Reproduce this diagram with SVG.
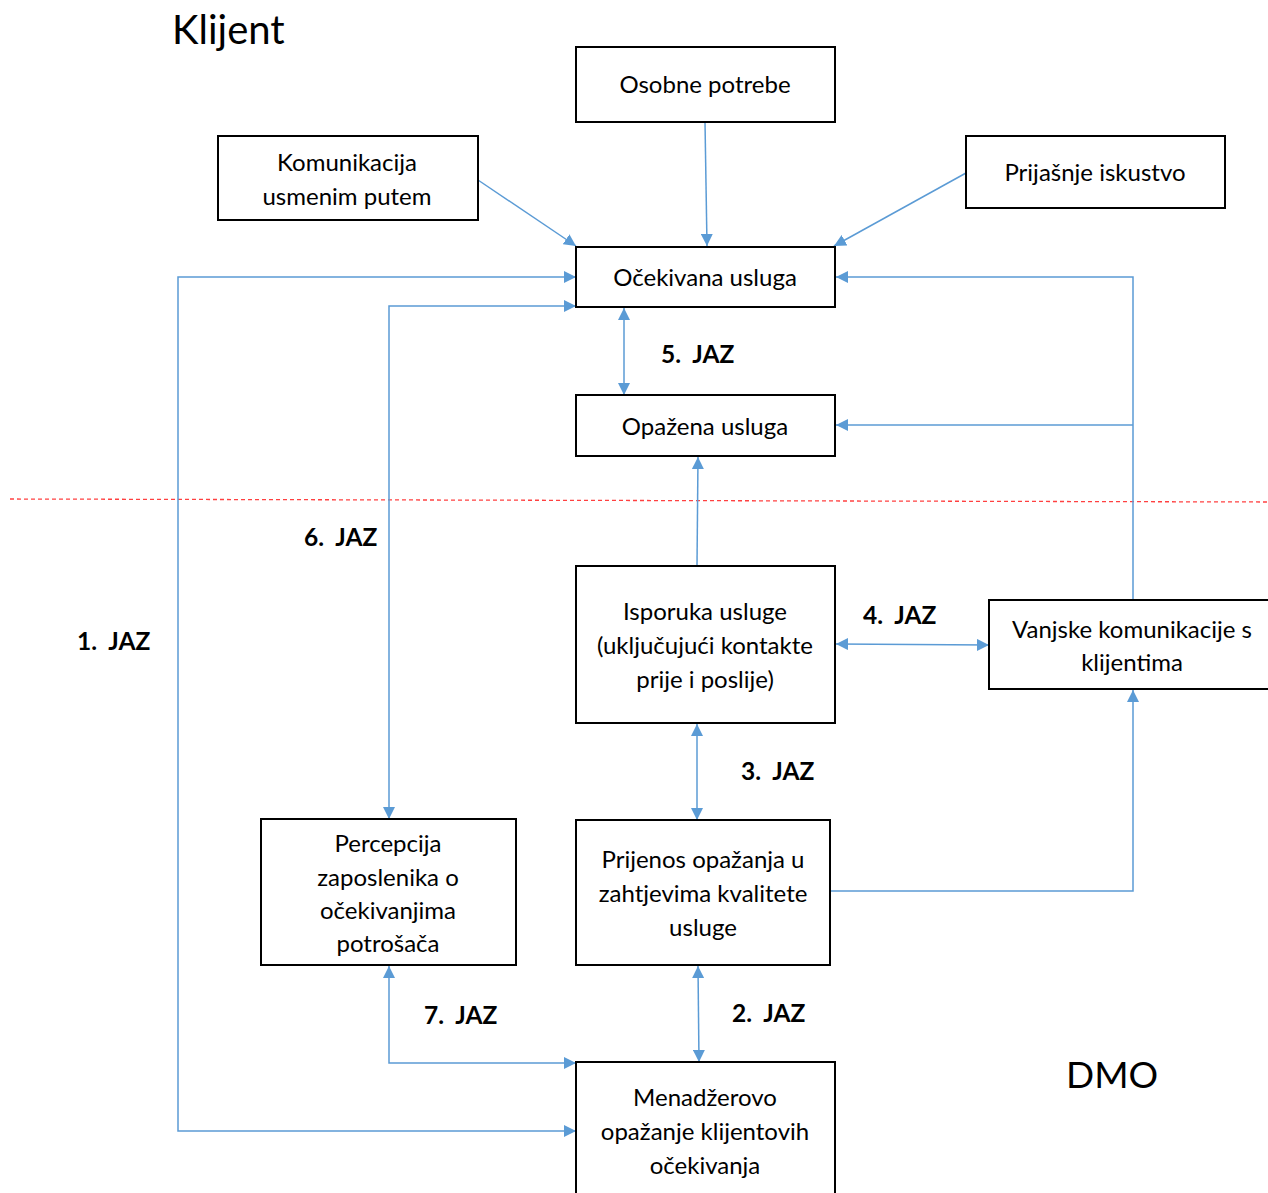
<svg xmlns="http://www.w3.org/2000/svg" width="1268" height="1193" viewBox="0 0 1268 1193">
<style>
.box{fill:#fff;stroke:#000;stroke-width:2}
.t{font-family:Lato,"Liberation Sans",sans-serif;font-size:24px;fill:#000;text-anchor:middle;dominant-baseline:central}
.j{font-family:Lato,"Liberation Sans",sans-serif;font-size:24.5px;font-weight:bold;fill:#000}
.big{font-family:Lato,"Liberation Sans",sans-serif;font-size:40px;fill:#000}
.c{fill:none;stroke:#5B9BD5;stroke-width:1.5}
</style>
<defs>
<marker id="ah" viewBox="0 0 12 12" refX="12" refY="6" markerWidth="12" markerHeight="12" markerUnits="userSpaceOnUse" orient="auto-start-reverse">
<path d="M0,0 L12,6 L0,12 Z" fill="#5B9BD5"/>
</marker>
</defs>
<rect width="1268" height="1193" fill="#fff"/>
<text class="big" x="172" y="44">Klijent</text>
<text class="big" x="1066" y="1088" style="font-size:37px">DMO</text>
<line x1="10" y1="499" x2="1268" y2="502" stroke="#FF4040" stroke-width="1.3" stroke-dasharray="4,3"/>
<g id="connectors">
<line class="c" x1="705" y1="122" x2="707" y2="246" marker-end="url(#ah)"/>
<line class="c" x1="478" y1="180" x2="576" y2="246" marker-end="url(#ah)"/>
<line class="c" x1="966" y1="173" x2="834" y2="246" marker-end="url(#ah)"/>
<polyline class="c" points="576,277 178,277 178,1131 576,1131" marker-start="url(#ah)" marker-end="url(#ah)"/>
<polyline class="c" points="576,306 389,306 389,819" marker-start="url(#ah)" marker-end="url(#ah)"/>
<line class="c" x1="624" y1="308" x2="624" y2="395" marker-start="url(#ah)" marker-end="url(#ah)"/>
<line class="c" x1="697" y1="566" x2="698" y2="457" marker-end="url(#ah)"/>
<polyline class="c" points="1133,600 1133,277 836,277" marker-end="url(#ah)"/>
<line class="c" x1="1133" y1="425" x2="836" y2="425" marker-end="url(#ah)"/>
<line class="c" x1="836" y1="644" x2="989" y2="645" marker-start="url(#ah)" marker-end="url(#ah)"/>
<line class="c" x1="697" y1="724" x2="697" y2="820" marker-start="url(#ah)" marker-end="url(#ah)"/>
<polyline class="c" points="830,891 1133,891 1133,690" marker-end="url(#ah)"/>
<line class="c" x1="698" y1="966" x2="699" y2="1062" marker-start="url(#ah)" marker-end="url(#ah)"/>
<polyline class="c" points="389,966 389,1063 576,1063" marker-start="url(#ah)" marker-end="url(#ah)"/>
</g>
<g id="n-osobne"><rect class="box" x="576" y="47" width="259" height="75"/><text class="t" x="705" y="83">Osobne potrebe</text></g>
<g id="n-komunikacija"><rect class="box" x="218" y="136" width="260" height="84"/><text class="t" x="347" y="161">Komunikacija</text><text class="t" x="347" y="195">usmenim putem</text></g>
<g id="n-prijasnje"><rect class="box" x="966" y="136" width="259" height="72"/><text class="t" x="1095" y="171">Prijašnje iskustvo</text></g>
<g id="n-ocekivana"><rect class="box" x="576" y="247" width="259" height="60"/><text class="t" x="705" y="276">Očekivana usluga</text></g>
<g id="n-opazena"><rect class="box" x="576" y="395" width="259" height="61"/><text class="t" x="705" y="425">Opažena usluga</text></g>
<g id="n-isporuka"><rect class="box" x="576" y="566" width="259" height="157"/><text class="t" x="705" y="610">Isporuka usluge</text><text class="t" x="705" y="644">(uključujući kontakte</text><text class="t" x="705" y="678">prije i poslije)</text></g>
<g id="n-vanjske"><rect class="box" x="989" y="600" width="290" height="89"/><text class="t" x="1132" y="628">Vanjske komunikacije s</text><text class="t" x="1132" y="661">klijentima</text></g>
<g id="n-percepcija"><rect class="box" x="261" y="819" width="255" height="146"/><text class="t" x="388" y="842">Percepcija</text><text class="t" x="388" y="876">zaposlenika o</text><text class="t" x="388" y="909">očekivanjima</text><text class="t" x="388" y="942">potrošača</text></g>
<g id="n-prijenos"><rect class="box" x="576" y="820" width="254" height="145"/><text class="t" x="703" y="858">Prijenos opažanja u</text><text class="t" x="703" y="892">zahtjevima kvalitete</text><text class="t" x="703" y="926">usluge</text></g>
<g id="n-menadzerovo"><rect class="box" x="576" y="1062" width="259" height="140"/><text class="t" x="705" y="1096">Menadžerovo</text><text class="t" x="705" y="1130">opažanje klijentovih</text><text class="t" x="705" y="1164">očekivanja</text></g>
<g id="labels">
<text class="j" x="661" y="363" xml:space="preserve">5.  JAZ</text>
<text class="j" x="304" y="546" xml:space="preserve">6.  JAZ</text>
<text class="j" x="77" y="650" xml:space="preserve">1.  JAZ</text>
<text class="j" x="863" y="624" xml:space="preserve">4.  JAZ</text>
<text class="j" x="741" y="780" xml:space="preserve">3.  JAZ</text>
<text class="j" x="424" y="1024" xml:space="preserve">7.  JAZ</text>
<text class="j" x="732" y="1022" xml:space="preserve">2.  JAZ</text>
</g>
</svg>
